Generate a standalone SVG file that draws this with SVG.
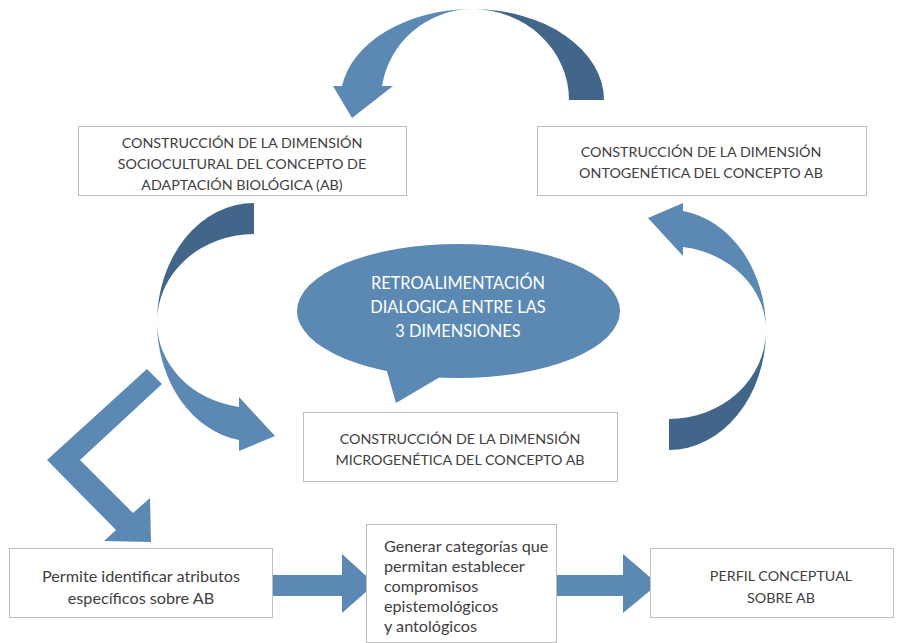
<svg xmlns="http://www.w3.org/2000/svg" width="902" height="643" viewBox="0 0 902 643">
<style>
.box{fill:#fff;stroke:#bfbfbf;stroke-width:1}
.t{font-family:Lato,"Liberation Sans",sans-serif;font-size:14.3px;fill:#404040}
.l{font-size:16.2px}
.c{text-anchor:middle}
.w{font-family:Lato,"Liberation Sans",sans-serif;font-size:16.4px;fill:#fff;text-anchor:middle}
.lt{fill:#5b89b4}
.dk{fill:#42658a}
</style>
<rect width="902" height="643" fill="#fff"/>
<g id="connectors">
<g id="arrow-top">
<path class="dk" d="M472,9 A132 91 0 0 1 604,100 L569,100 A97 91 0 0 0 472,9 Z"/>
<path class="lt" d="M472,9 A132 91 0 0 0 342,86 L333,86 L352,118 L393,86 L382,86 A92 91 0 0 1 472,9 Z"/>
</g>
<g id="arrow-left">
<path class="dk" d="M254,203 A97 119 0 0 0 157,322 A97 88 0 0 1 254,234 Z"/>
<path class="lt" d="M157,322 A97 119 0 0 0 239,440 L239,451 L275,436 L239,397 L239,407 A97 86 0 0 1 157,322 Z"/>
</g>
<g id="arrow-right">
<path class="dk" d="M669,450 A97 120 0 0 0 766,330 A97 89 0 0 1 669,419 Z"/>
<path class="lt" d="M766,330 A97 120 0 0 0 683,211 L683,203 L648,218 L683,256 L683,247 A97 84 0 0 1 766,330 Z"/>
</g>
<polygon id="arrow-bent" class="lt" points="147,369 47,460 116,530 104,541 151,542 150,498 133,513 80,460 162,384"/>
<polygon id="arrow-b1" class="lt" points="273,575 342,575 342,554 375,584 342,613 342,596 273,596"/>
<polygon id="arrow-b2" class="lt" points="556,575 623,575 623,554 658,584 623,613 623,596 556,596"/>
</g>
<g id="node-socio">
<rect class="box" x="78.5" y="126.5" width="328" height="69"/>
<text class="t c" x="242" y="148">CONSTRUCCIÓN DE LA DIMENSIÓN</text>
<text class="t c" x="242" y="169">SOCIOCULTURAL DEL CONCEPTO DE</text>
<text class="t c" x="242" y="190">ADAPTACIÓN BIOLÓGICA (AB)</text>
</g>
<g id="node-onto">
<rect class="box" x="537.5" y="126.5" width="329" height="69"/>
<text class="t c" x="701" y="157">CONSTRUCCIÓN DE LA DIMENSIÓN</text>
<text class="t c" x="701" y="178">ONTOGENÉTICA DEL CONCEPTO AB</text>
</g>
<g id="node-retro">
<ellipse cx="458.5" cy="311" rx="161.5" ry="67" fill="#5b89b4"/>
<path fill="#5b89b4" d="M384,360 L386,368 L396,403 L440,377 L445,360 Z"/>
<text class="w" x="458" y="289">RETROALIMENTACIÓN</text>
<text class="w" x="458" y="313">DIALOGICA ENTRE LAS</text>
<text class="w" x="458" y="337">3 DIMENSIONES</text>
</g>
<g id="node-micro">
<rect class="box" x="303.5" y="412.5" width="314" height="69"/>
<text class="t c" x="460" y="444">CONSTRUCCIÓN DE LA DIMENSIÓN</text>
<text class="t c" x="460" y="465">MICROGENÉTICA DEL CONCEPTO AB</text>
</g>
<g id="node-permite">
<rect class="box" x="9.5" y="548.5" width="263" height="69"/>
<text class="t l c" x="141" y="582">Permite identificar atributos</text>
<text class="t l c" x="141" y="604">específicos sobre AB</text>
</g>
<g id="node-generar">
<rect class="box" x="366.5" y="524.5" width="190" height="118"/>
<text class="t l" x="384" y="552">Generar categorías que</text>
<text class="t l" x="384" y="572">permitan establecer</text>
<text class="t l" x="384" y="592">compromisos</text>
<text class="t l" x="384" y="612">epistemológicos</text>
<text class="t l" x="384" y="632">y antológicos</text>
</g>
<g id="node-perfil">
<rect class="box" x="650.5" y="548.5" width="243" height="69"/>
<text class="t c" x="781" y="581">PERFIL CONCEPTUAL</text>
<text class="t c" x="781" y="603">SOBRE AB</text>
</g>
</svg>
